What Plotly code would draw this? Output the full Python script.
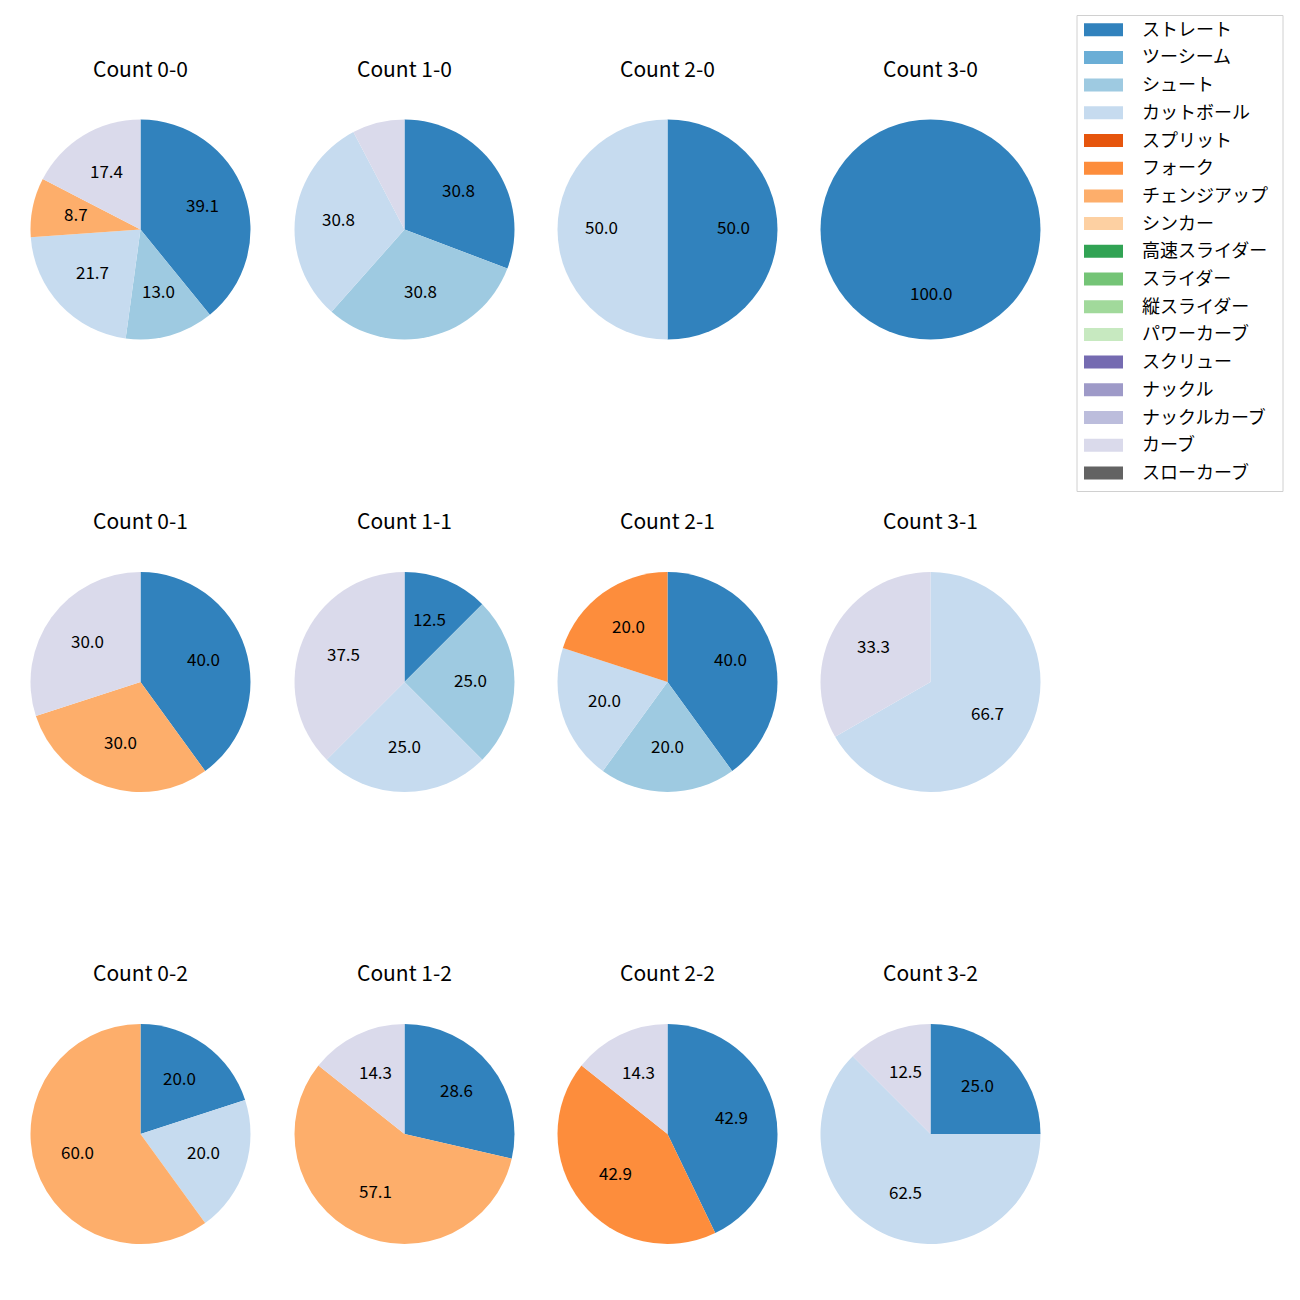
import math
import plotly.graph_objects as go

W, H = 1300, 1300
OFF = 8  # page body margin in the browser

pitch_types = ["ストレート", "ツーシーム", "シュート", "カットボール", "スプリット", "フォーク",
               "チェンジアップ", "シンカー", "高速スライダー", "スライダー", "縦スライダー",
               "パワーカーブ", "スクリュー", "ナックル", "ナックルカーブ", "カーブ", "スローカーブ"]
colors = ["#3182bd", "#6baed6", "#9ecae1", "#c6dbef", "#e6550d", "#fd8d3c", "#fdae6b", "#fdd0a2",
          "#31a354", "#74c476", "#a1d99b", "#c7e9c0", "#756bb1", "#9e9ac8", "#bcbddc", "#dadaeb",
          "#636363"]

count_titles = ["Count 0-0", "Count 1-0", "Count 2-0", "Count 3-0",
                "Count 0-1", "Count 1-1", "Count 2-1", "Count 3-1",
                "Count 0-2", "Count 1-2", "Count 2-2", "Count 3-2"]

# percentages per pitch type (order of pitch_types)
c00 = [39.1, 0, 13.0, 21.7, 0, 0, 8.7, 0, 0, 0, 0, 0, 0, 0, 0, 17.4, 0]
c10 = [30.8, 0, 30.8, 30.8, 0, 0, 0, 0, 0, 0, 0, 0, 0, 0, 0, 7.7, 0]
c20 = [50.0, 0, 0, 50.0, 0, 0, 0, 0, 0, 0, 0, 0, 0, 0, 0, 0, 0]
c30 = [100.0, 0, 0, 0, 0, 0, 0, 0, 0, 0, 0, 0, 0, 0, 0, 0, 0]
c01 = [40.0, 0, 0, 0, 0, 0, 30.0, 0, 0, 0, 0, 0, 0, 0, 0, 30.0, 0]
c11 = [12.5, 0, 25.0, 25.0, 0, 0, 0, 0, 0, 0, 0, 0, 0, 0, 0, 37.5, 0]
c21 = [40.0, 0, 20.0, 20.0, 0, 20.0, 0, 0, 0, 0, 0, 0, 0, 0, 0, 0, 0]
c31 = [0, 0, 0, 66.7, 0, 0, 0, 0, 0, 0, 0, 0, 0, 0, 0, 33.3, 0]
c02 = [20.0, 0, 0, 20.0, 0, 0, 60.0, 0, 0, 0, 0, 0, 0, 0, 0, 0, 0]
c12 = [28.6, 0, 0, 0, 0, 0, 57.1, 0, 0, 0, 0, 0, 0, 0, 0, 14.3, 0]
c22 = [42.9, 0, 0, 0, 0, 42.9, 0, 0, 0, 0, 0, 0, 0, 0, 0, 14.3, 0]
c32 = [25.0, 0, 0, 62.5, 0, 0, 0, 0, 0, 0, 0, 0, 0, 0, 0, 12.5, 0]
all_counts = [c00, c10, c20, c30, c01, c11, c21, c31, c02, c12, c22, c32]

# layout geometry (page pixels)
col_cx = [140.5, 404.5, 667.5, 930.5]
row_cy = [229.5, 682.0, 1134.0]
R = 110.0
title_dy = 162
label_shift = -3
label_min = 8.0
FONT = "Noto Sans CJK JP, Noto Sans, sans-serif"


def px(x):
    return (x - OFF) / W


def py(y):
    return 1 - (y - OFF) / H


fig = go.Figure()
annotations = []
shapes = []

for i, (title, vals) in enumerate(zip(count_titles, all_counts)):
    cx = col_cx[i % 4]
    cy = row_cy[i // 4]
    labs = [p for p, v in zip(pitch_types, vals) if v > 0]
    vs = [v for v in vals if v > 0]
    cs = [c for c, v in zip(colors, vals) if v > 0]
    fig.add_trace(go.Pie(
        labels=labs, values=vs, sort=False, direction="clockwise", rotation=0,
        marker=dict(colors=cs, line=dict(width=0)),
        textinfo="none", showlegend=False,
        domain=dict(x=[px(cx - R), px(cx + R)], y=[py(cy + R), py(cy - R)]),
    ))
    total = sum(vs)
    cum = 0.0
    for v in vs:
        pct = v / total * 100
        mid = (cum + v / 2) / total * 2 * math.pi
        cum += v
        if pct < label_min:
            continue
        lx = cx + 0.6 * R * math.sin(mid)
        ly = cy - 0.6 * R * math.cos(mid) + label_shift
        annotations.append(dict(x=px(lx), y=py(ly), xref="paper", yref="paper",
                                text=f"{pct:.1f}", showarrow=False,
                                font=dict(size=17, color="black", family=FONT),
                                xanchor="center", yanchor="middle"))
    annotations.append(dict(x=px(cx), y=py(cy - title_dy), xref="paper", yref="paper",
                            text=title, showarrow=False,
                            font=dict(size=21, color="black", family=FONT),
                            xanchor="center", yanchor="middle"))

# legend (manual, matplotlib style)
lx0, ly0, lx1, ly1 = 1077, 15.5, 1283, 491.5
shapes.append(dict(type="rect", xref="paper", yref="paper",
                   x0=px(lx0), x1=px(lx1), y0=py(ly1), y1=py(ly0),
                   line=dict(color="#d0d0d0", width=1), fillcolor="white", layer="below"))
for k, (name, col) in enumerate(zip(pitch_types, colors)):
    yc = 29.7 + k * 27.7
    shapes.append(dict(type="rect", xref="paper", yref="paper",
                       x0=px(1084), x1=px(1123), y0=py(yc + 6.5), y1=py(yc - 6.5),
                       line=dict(width=0), fillcolor=col))
    annotations.append(dict(x=px(1140), y=py(yc - 2), xref="paper", yref="paper",
                            text=name, showarrow=False, xanchor="left", yanchor="middle",
                            font=dict(size=18, color="black", family=FONT)))

fig.update_layout(width=W, height=H, margin=dict(l=0, r=0, t=0, b=0),
                  paper_bgcolor="white", plot_bgcolor="white",
                  annotations=annotations, shapes=shapes, showlegend=False)

fig.write_html("out.html")
